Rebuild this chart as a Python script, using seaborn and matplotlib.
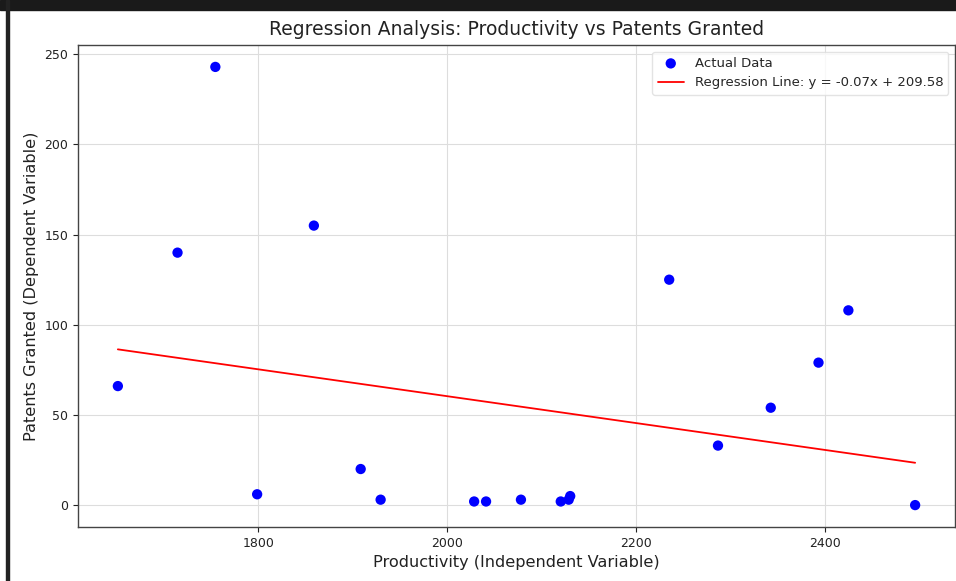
import numpy as np
import pandas as pd
import matplotlib
matplotlib.use("Agg")
import matplotlib.pyplot as plt
import seaborn as sns
from matplotlib.patches import Rectangle

productivity = [1651.6, 1714.7, 1754.7, 1798.9, 1858.9, 1908.4, 1929.5, 2028.4, 2041.0,
                2077.9, 2120.0, 2128.4, 2130.0, 2234.7, 2286.3, 2342.1, 2392.6, 2424.2, 2494.8]
patents = [66, 140, 243, 6, 155, 20, 3, 2, 2,
           3, 2, 3, 5, 125, 33, 54, 79, 108, 0]

df = pd.DataFrame({"Productivity": productivity, "Patents": patents})
slope, intercept = np.polyfit(df["Productivity"], df["Patents"], 1)
df["Fit"] = slope * df["Productivity"] + intercept

sns.set_style("ticks")
plt.rcParams['font.family'] = ['DejaVu Sans']

fig = plt.figure(figsize=(9.56, 5.81), dpi=100)
ax = fig.add_axes([78/956, 1 - 527/581, (955-78)/956, (527-45)/581])

sns.scatterplot(data=df, x="Productivity", y="Patents", color="blue", s=55,
                edgecolor="none", label="Actual Data", ax=ax, zorder=3)
sns.lineplot(data=df, x="Productivity", y="Fit", color="red", linewidth=1.3,
             label=f"Regression Line: y = {slope:.2f}x + {intercept:.2f}", ax=ax, zorder=2)

ax.set_xticks([1800, 2000, 2200, 2400])
ax.set_yticks([0, 50, 100, 150, 200, 250])
ax.tick_params(labelsize=9, colors="#222222", length=3.5)
ax.grid(True, color="#dddddd", linewidth=0.8)
ax.set_axisbelow(True)
for s in ax.spines.values():
    s.set_color("#444444")
    s.set_linewidth(1.0)

ax.set_title("Regression Analysis: Productivity vs Patents Granted", fontsize=13.5, pad=7, color="#222222")
ax.set_xlabel("Productivity (Independent Variable)", fontsize=11.6, color="#222222")
ax.set_ylabel("Patents Granted (Dependent Variable)", fontsize=11.6, color="#222222")
leg = ax.legend(loc="upper right", fontsize=9.5, frameon=True, framealpha=0.8, edgecolor="#dddddd")

# screenshot frame
fig.patches.append(Rectangle((0, 1 - 10/581), 1, 10/581, transform=fig.transFigure,
                             color="#1a1a1a", zorder=10))
fig.patches.append(Rectangle((6/956, 0), 3/956, 1, transform=fig.transFigure,
                             color="#222222", zorder=10))

fig.savefig("out.png", dpi=100)
